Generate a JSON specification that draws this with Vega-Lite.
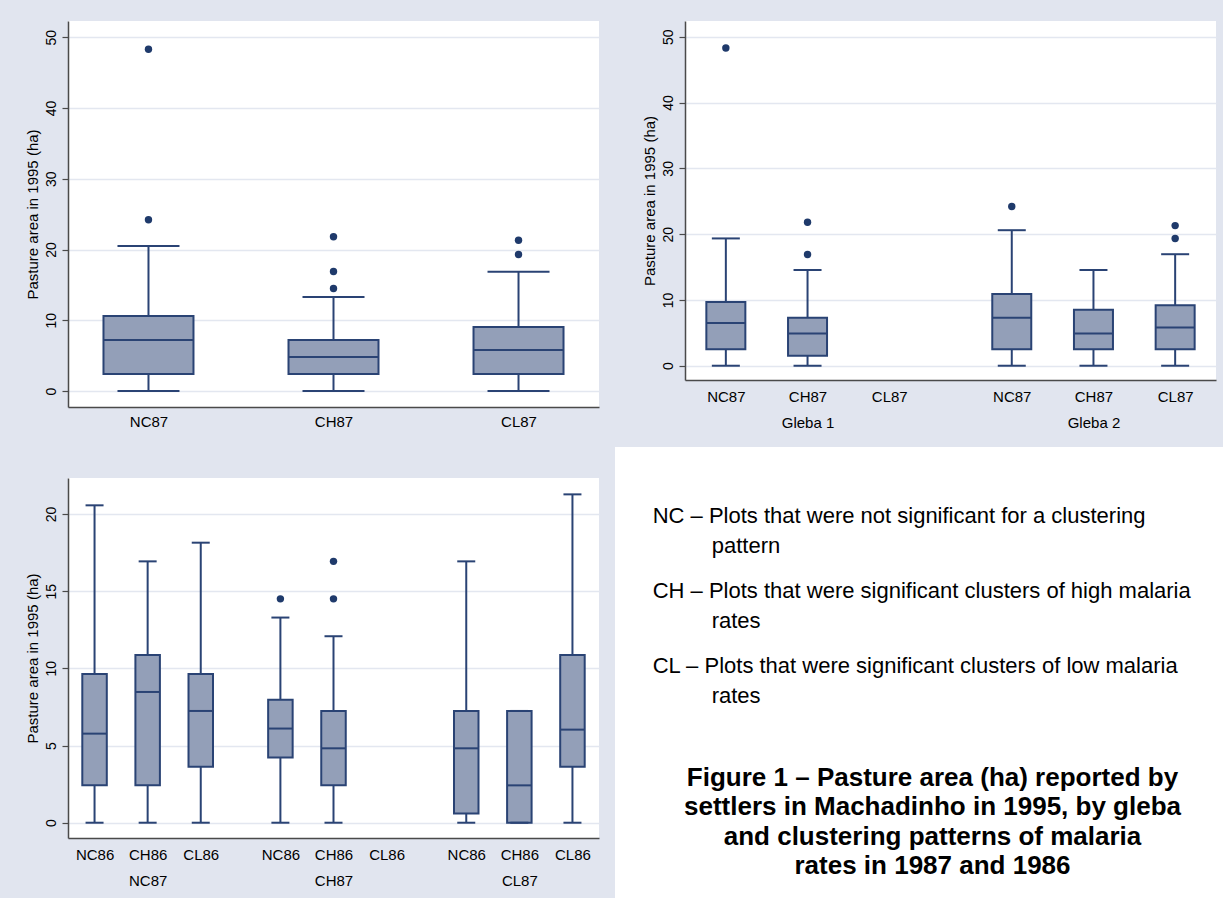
{
  "$schema": "https://vega.github.io/schema/vega-lite/v6.json",
  "background": "#e1e5ef",
  "padding": {"left": 25, "top": 21, "right": 0, "bottom": 0},
  "columns": 2,
  "align": "none",
  "spacing": {"row": 17, "column": 16},
  "config": {
    "font": "Liberation Sans",
    "view": {"fill": "white", "stroke": null},
    "axis": {
      "labelFont": "Liberation Sans", "titleFont": "Liberation Sans",
      "labelColor": "#000", "titleColor": "#000",
      "labelFontSize": 15, "titleFontSize": 15, "titleFontWeight": "normal",
      "domainColor": "#4a4a4a", "domainWidth": 1.5,
      "tickColor": "#4a4a4a", "tickWidth": 1.2,
      "gridColor": "#e3e7f0", "gridWidth": 1.5
    },
    "axisX": {"ticks": false, "grid": false, "labelAngle": 0, "labelLineHeight": 26, "labelPadding": 8},
    "axisY": {"grid": true, "labelAngle": -90, "labelFontSize": 14, "tickSize": 6, "labelPadding": 4, "titlePadding": 4}
  },
  "datasets": {
    "box1": [
      {"key": "NC87", "lower": 0, "q1": 2.4, "median": 7.2, "q3": 10.6, "upper": 20.5},
      {"key": "CH87", "lower": 0, "q1": 2.4, "median": 4.8, "q3": 7.2, "upper": 13.3},
      {"key": "CL87", "lower": 0, "q1": 2.4, "median": 5.8, "q3": 9.05, "upper": 16.85}
    ],
    "out1": [
      {"key": "NC87", "value": 48.3}, {"key": "NC87", "value": 24.2},
      {"key": "CH87", "value": 21.8}, {"key": "CH87", "value": 16.9}, {"key": "CH87", "value": 14.5},
      {"key": "CL87", "value": 21.3}, {"key": "CL87", "value": 19.3}
    ],
    "box2": [
      {"key": "G1 NC87", "lower": 0, "q1": 2.5, "median": 6.5, "q3": 9.7, "upper": 19.35},
      {"key": "G1 CH87", "lower": 0, "q1": 1.5, "median": 4.9, "q3": 7.3, "upper": 14.55},
      {"key": "G2 NC87", "lower": 0, "q1": 2.5, "median": 7.3, "q3": 10.9, "upper": 20.6},
      {"key": "G2 CH87", "lower": 0, "q1": 2.5, "median": 4.9, "q3": 8.5, "upper": 14.55},
      {"key": "G2 CL87", "lower": 0, "q1": 2.5, "median": 5.8, "q3": 9.2, "upper": 16.95}
    ],
    "out2": [
      {"key": "G1 NC87", "value": 48.3},
      {"key": "G1 CH87", "value": 21.8}, {"key": "G1 CH87", "value": 16.9},
      {"key": "G2 NC87", "value": 24.2},
      {"key": "G2 CL87", "value": 21.3}, {"key": "G2 CL87", "value": 19.35}
    ],
    "box3": [
      {"key": "NC87 NC86", "lower": 0, "q1": 2.42, "median": 5.77, "q3": 9.64, "upper": 20.56},
      {"key": "NC87 CH86", "lower": 0, "q1": 2.42, "median": 8.47, "q3": 10.87, "upper": 16.93},
      {"key": "NC87 CL86", "lower": 0, "q1": 3.63, "median": 7.24, "q3": 9.64, "upper": 18.14},
      {"key": "CH87 NC86", "lower": 0, "q1": 4.22, "median": 6.1, "q3": 7.96, "upper": 13.29},
      {"key": "CH87 CH86", "lower": 0, "q1": 2.42, "median": 4.82, "q3": 7.24, "upper": 12.08},
      {"key": "CL87 NC86", "lower": 0, "q1": 0.6, "median": 4.82, "q3": 7.24, "upper": 16.93},
      {"key": "CL87 CH86", "lower": 0, "q1": 0, "median": 2.42, "q3": 7.24, "upper": 7.24},
      {"key": "CL87 CL86", "lower": 0, "q1": 3.63, "median": 6.03, "q3": 10.87, "upper": 21.27}
    ],
    "out3": [
      {"key": "CH87 NC86", "value": 14.5},
      {"key": "CH87 CH86", "value": 16.93}, {"key": "CH87 CH86", "value": 14.5}
    ],
    "notes": [
      {"block": "NC", "col": "head", "text": "NC – Plots that were not significant for a clustering"},
      {"block": "NC", "col": "indent", "text": "pattern"},
      {"block": "CH", "col": "head", "text": "CH – Plots that were significant clusters of high malaria"},
      {"block": "CH", "col": "indent", "text": "rates"},
      {"block": "CL", "col": "head", "text": "CL – Plots that were significant clusters of low malaria"},
      {"block": "CL", "col": "indent", "text": "rates"},
      {"block": "FIG", "col": "caption", "text": "Figure 1 – Pasture area (ha) reported by\nsettlers in Machadinho in 1995, by gleba\nand clustering patterns of malaria\nrates in 1987 and 1986"}
    ]
  },
  "concat": [
    {
      "width": 531, "height": 386,
      "encoding": {
        "x": {"field": "key", "type": "nominal", "title": null,
              "scale": {"type": "point", "domain": ["NC87", "CH87", "CL87"], "padding": 0.435},
              "axis": {"labelPadding": 7}}
      },
      "layer": [
        {"data": {"name": "box1"}, "mark": {"type": "rule", "color": "#2a4374", "strokeWidth": 2},
         "encoding": {"y": {"field": "lower", "type": "quantitative", "title": "Pasture area in 1995 (ha)",
                            "scale": {"domain": [-2.26, 52.3], "nice": false, "zero": false},
                            "axis": {"values": [0, 10, 20, 30, 40, 50]}},
                      "y2": {"field": "upper"}}},
        {"data": {"name": "box1"}, "mark": {"type": "bar", "size": 90, "fill": "#939fb8", "stroke": "#2a4374", "strokeWidth": 2},
         "encoding": {"y": {"field": "q1", "type": "quantitative", "title": "Pasture area in 1995 (ha)"}, "y2": {"field": "q3"}}},
        {"data": {"name": "box1"}, "mark": {"type": "tick", "size": 90, "thickness": 2, "color": "#2a4374", "opacity": 1},
         "encoding": {"y": {"field": "median", "type": "quantitative", "title": "Pasture area in 1995 (ha)"}}},
        {"data": {"name": "box1"}, "mark": {"type": "tick", "size": 62, "thickness": 2, "color": "#2a4374", "opacity": 1},
         "encoding": {"y": {"field": "lower", "type": "quantitative", "title": "Pasture area in 1995 (ha)"}}},
        {"data": {"name": "box1"}, "mark": {"type": "tick", "size": 62, "thickness": 2, "color": "#2a4374", "opacity": 1},
         "encoding": {"y": {"field": "upper", "type": "quantitative", "title": "Pasture area in 1995 (ha)"}}},
        {"data": {"name": "out1"}, "mark": {"type": "point", "filled": true, "size": 55, "color": "#1f3a6b", "opacity": 1},
         "encoding": {"y": {"field": "value", "type": "quantitative", "title": "Pasture area in 1995 (ha)"}}}
      ]
    },
    {
      "width": 531, "height": 359,
      "encoding": {
        "x": {"field": "key", "type": "nominal", "title": null,
              "scale": {"type": "point", "padding": 1.08,
                        "domain": ["G1 NC87", "_1", "G1 CH87", "_2", "G1 CL87", "_3", "_4", "G2 NC87", "_5", "G2 CH87", "_6", "G2 CL87"]},
              "axis": {"labelPadding": 9,
                       "labelExpr": "datum.value == 'G1 CH87' ? ['CH87', 'Gleba 1'] : datum.value == 'G2 CH87' ? ['CH87', 'Gleba 2'] : indexof(datum.value, ' ') > 0 ? substring(datum.value, 3) : ''"}}
      },
      "layer": [
        {"data": {"name": "box2"}, "mark": {"type": "rule", "color": "#2a4374", "strokeWidth": 2},
         "encoding": {"y": {"field": "lower", "type": "quantitative", "title": ["", "Pasture area in 1995 (ha)"],
                            "scale": {"domain": [-2.17, 52.4], "nice": false, "zero": false},
                            "axis": {"values": [0, 10, 20, 30, 40, 50], "titleLineHeight": 27}},
                      "y2": {"field": "upper"}}},
        {"data": {"name": "box2"}, "mark": {"type": "bar", "size": 39, "fill": "#939fb8", "stroke": "#2a4374", "strokeWidth": 2},
         "encoding": {"y": {"field": "q1", "type": "quantitative", "title": ["", "Pasture area in 1995 (ha)"]}, "y2": {"field": "q3"}}},
        {"data": {"name": "box2"}, "mark": {"type": "tick", "size": 39, "thickness": 2, "color": "#2a4374", "opacity": 1},
         "encoding": {"y": {"field": "median", "type": "quantitative", "title": ["", "Pasture area in 1995 (ha)"]}}},
        {"data": {"name": "box2"}, "mark": {"type": "tick", "size": 28, "thickness": 2, "color": "#2a4374", "opacity": 1},
         "encoding": {"y": {"field": "lower", "type": "quantitative", "title": ["", "Pasture area in 1995 (ha)"]}}},
        {"data": {"name": "box2"}, "mark": {"type": "tick", "size": 28, "thickness": 2, "color": "#2a4374", "opacity": 1},
         "encoding": {"y": {"field": "upper", "type": "quantitative", "title": ["", "Pasture area in 1995 (ha)"]}}},
        {"data": {"name": "out2"}, "mark": {"type": "point", "filled": true, "size": 55, "color": "#1f3a6b", "opacity": 1},
         "encoding": {"y": {"field": "value", "type": "quantitative", "title": ["", "Pasture area in 1995 (ha)"]}}}
      ]
    },
    {
      "width": 531, "height": 360,
      "title": {"text": " ", "fontSize": 2, "offset": 29},
      "encoding": {
        "x": {"field": "key", "type": "nominal", "title": null,
              "scale": {"type": "point", "padding": 1.29,
                        "domain": ["NC87 NC86", "_1", "NC87 CH86", "_2", "NC87 CL86", "_3", "_4", "CH87 NC86", "_5", "CH87 CH86", "_6", "CH87 CL86", "_7", "_8", "CL87 NC86", "_9", "CL87 CH86", "_10", "CL87 CL86"]},
              "axis": {"labelPadding": 9,
                       "labelExpr": "indexof(datum.value, ' ') < 0 ? '' : substring(datum.value, 5) == 'CH86' ? [substring(datum.value, 5), substring(datum.value, 0, 4)] : substring(datum.value, 5)"}}
      },
      "layer": [
        {"data": {"name": "box3"}, "mark": {"type": "rule", "color": "#2a4374", "strokeWidth": 2},
         "encoding": {"y": {"field": "lower", "type": "quantitative", "title": "Pasture area in 1995 (ha)",
                            "scale": {"domain": [-0.99, 22.33], "nice": false, "zero": false},
                            "axis": {"values": [0, 5, 10, 15, 20]}},
                      "y2": {"field": "upper"}}},
        {"data": {"name": "box3"}, "mark": {"type": "bar", "size": 24.5, "fill": "#939fb8", "stroke": "#2a4374", "strokeWidth": 2},
         "encoding": {"y": {"field": "q1", "type": "quantitative", "title": "Pasture area in 1995 (ha)"}, "y2": {"field": "q3"}}},
        {"data": {"name": "box3"}, "mark": {"type": "tick", "size": 24.5, "thickness": 2, "color": "#2a4374", "opacity": 1},
         "encoding": {"y": {"field": "median", "type": "quantitative", "title": "Pasture area in 1995 (ha)"}}},
        {"data": {"name": "box3"}, "mark": {"type": "tick", "size": 18, "thickness": 2, "color": "#2a4374", "opacity": 1},
         "encoding": {"y": {"field": "lower", "type": "quantitative", "title": "Pasture area in 1995 (ha)"}}},
        {"data": {"name": "box3"}, "mark": {"type": "tick", "size": 18, "thickness": 2, "color": "#2a4374", "opacity": 1},
         "encoding": {"y": {"field": "upper", "type": "quantitative", "title": "Pasture area in 1995 (ha)"}}},
        {"data": {"name": "out3"}, "mark": {"type": "point", "filled": true, "size": 55, "color": "#1f3a6b", "opacity": 1},
         "encoding": {"y": {"field": "value", "type": "quantitative", "title": "Pasture area in 1995 (ha)"}}}
      ]
    },
    {
      "width": 609, "height": 451,
      "data": {"name": "notes"},
      "encoding": {
        "y": {"field": "block", "type": "nominal", "axis": null,
              "scale": {"type": "point", "domain": ["NC", "_a", "CH", "_b", "CL", "_c", "_d", "FIG"], "range": [76, 338.5], "padding": 0}},
        "text": {"field": "text", "type": "nominal"}
      },
      "resolve": {"scale": {"x": "independent"}},
      "layer": [
        {"transform": [{"filter": "datum.col == 'head'"}],
         "mark": {"type": "text", "align": "left", "baseline": "alphabetic", "font": "Liberation Sans", "fontSize": 22, "color": "#000"},
         "encoding": {"x": {"field": "col", "type": "nominal", "axis": null,
                            "scale": {"type": "point", "domain": ["head", "indent"], "range": [37.7, 96.7], "padding": 0}}}},
        {"transform": [{"filter": "datum.col == 'indent'"}],
         "mark": {"type": "text", "align": "left", "baseline": "alphabetic", "dy": 30, "font": "Liberation Sans", "fontSize": 22, "color": "#000"},
         "encoding": {"x": {"field": "col", "type": "nominal", "axis": null,
                            "scale": {"type": "point", "domain": ["head", "indent"], "range": [37.7, 96.7], "padding": 0}}}},
        {"transform": [{"filter": "datum.col == 'caption'"}],
         "mark": {"type": "text", "align": "center", "baseline": "alphabetic", "lineBreak": "\n", "lineHeight": 29.5,
                  "font": "Liberation Sans", "fontWeight": "bold", "fontSize": 26, "color": "#000"},
         "encoding": {"x": {"field": "col", "type": "nominal", "axis": null,
                            "scale": {"type": "point", "domain": ["caption"], "range": [317.5, 317.5], "padding": 0}}}}
      ]
    }
  ]
}
